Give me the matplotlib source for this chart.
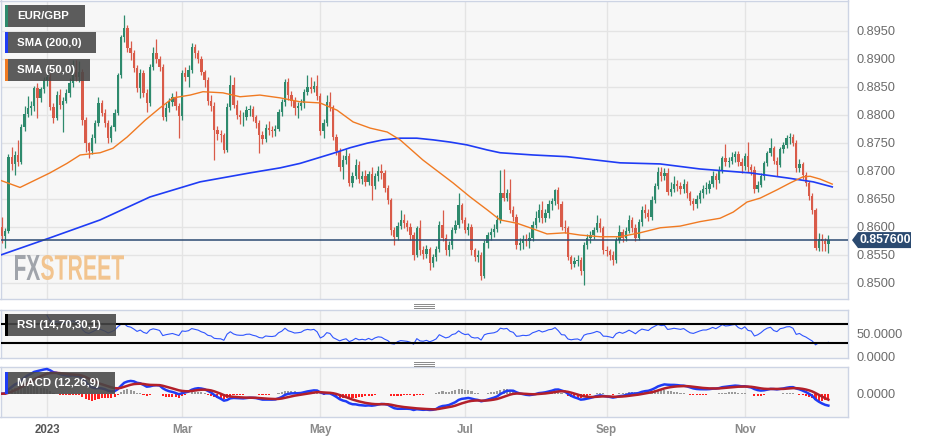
import numpy as np
import pandas as pd
import matplotlib
matplotlib.use('Agg')
import matplotlib.pyplot as plt
from matplotlib.patches import Rectangle, Polygon, PathPatch
from matplotlib.lines import Line2D
from matplotlib.textpath import TextPath
from matplotlib.font_manager import FontProperties
from matplotlib.transforms import Affine2D, IdentityTransform

plt.rcParams['font.family'] = ['Liberation Sans', 'DejaVu Sans']

# daily EUR/GBP candles (open = previous close)
first_day = '2022-12-13'
first_open = 0.8599
close = [
    0.8583, 0.8592, 0.8725, 0.8712, 0.8728, 0.8716, 0.8778, 0.8802, 0.8812, 0.8815,
    0.8847, 0.8830, 0.8845, 0.8862, 0.8868, 0.8814, 0.8794, 0.8835, 0.8818, 0.8825,
    0.8839, 0.8857, 0.8880, 0.8868, 0.8876, 0.8790, 0.8749, 0.8735, 0.8758, 0.8785,
    0.8820, 0.8803, 0.8785, 0.8758, 0.8778, 0.8803, 0.8870, 0.8938, 0.8955, 0.8919,
    0.8910, 0.8883, 0.8848, 0.8874, 0.8838, 0.8820, 0.8886, 0.8910, 0.8900, 0.8886,
    0.8796, 0.8812, 0.8822, 0.8832, 0.8815, 0.8797, 0.8874, 0.8868, 0.8880, 0.8921,
    0.8910, 0.8900, 0.8877, 0.8862, 0.8825, 0.8815, 0.8773, 0.8766, 0.8764, 0.8737,
    0.8814, 0.8853, 0.8818, 0.8800, 0.8795, 0.8795, 0.8808, 0.8810, 0.8795, 0.8785,
    0.8763, 0.8757, 0.8777, 0.8772, 0.8770, 0.8775, 0.8805, 0.8822, 0.8859, 0.8835,
    0.8825, 0.8812, 0.8815, 0.8820, 0.8841, 0.8850, 0.8846, 0.8852, 0.8833, 0.8770,
    0.8785, 0.8823, 0.8814, 0.8761, 0.8735, 0.8707, 0.8719, 0.8727, 0.8678, 0.8690,
    0.8710, 0.8685, 0.8690, 0.8680, 0.8694, 0.8672, 0.8690, 0.8700, 0.8695, 0.8669,
    0.8648, 0.8594, 0.8582, 0.8602, 0.8612, 0.8606, 0.8600, 0.8585, 0.8549, 0.8597,
    0.8558, 0.8552, 0.8560, 0.8535, 0.8545, 0.8560, 0.8603, 0.8580, 0.8558, 0.8567,
    0.8594, 0.8603, 0.8639, 0.8612, 0.8594, 0.8600, 0.8558, 0.8546, 0.8549, 0.8512,
    0.8570, 0.8585, 0.8590, 0.8596, 0.8612, 0.8660, 0.8652, 0.8660, 0.8630, 0.8618,
    0.8567, 0.8570, 0.8578, 0.8574, 0.8580, 0.8603, 0.8615, 0.8630, 0.8615, 0.8625,
    0.8640, 0.8645, 0.8665, 0.8640, 0.8600, 0.8597, 0.8545, 0.8533, 0.8538, 0.8540,
    0.8520, 0.8567, 0.8580, 0.8585, 0.8594, 0.8607, 0.8597, 0.8558, 0.8557, 0.8550,
    0.8540, 0.8576, 0.8590, 0.8580, 0.8593, 0.8612, 0.8598, 0.8580, 0.8608, 0.8630,
    0.8624, 0.8618, 0.8648, 0.8672, 0.8698, 0.8690, 0.8695, 0.8662, 0.8668, 0.8676,
    0.8672, 0.8668, 0.8676, 0.8660, 0.8645, 0.8640, 0.8650, 0.8660, 0.8668, 0.8668,
    0.8677, 0.8690, 0.8683, 0.8700, 0.8722, 0.8715, 0.8718, 0.8725, 0.8730, 0.8715,
    0.8708, 0.8726, 0.8706, 0.8702, 0.8667, 0.8675, 0.8690, 0.8713, 0.8731, 0.8740,
    0.8718, 0.8710, 0.8738, 0.8745, 0.8758, 0.8760, 0.8750, 0.8704, 0.8712, 0.8692,
    0.8678, 0.8655, 0.8630, 0.8562, 0.8578, 0.8574, 0.8569, 0.8576,
]
high = [
    0.8617, 0.8598, 0.8730, 0.8742, 0.8735, 0.8755, 0.8783, 0.8815, 0.8833, 0.8824,
    0.8852, 0.8856, 0.8850, 0.8868, 0.8877, 0.8874, 0.8820, 0.8842, 0.8845, 0.8832,
    0.8846, 0.8866, 0.8897, 0.8898, 0.8896, 0.8882, 0.8796, 0.8752, 0.8765, 0.8790,
    0.8832, 0.8826, 0.8810, 0.8790, 0.8782, 0.8810, 0.8874, 0.8942, 0.8978, 0.8960,
    0.8932, 0.8915, 0.8888, 0.8882, 0.8880, 0.8845, 0.8890, 0.8920, 0.8936, 0.8905,
    0.8890, 0.8820, 0.8830, 0.8838, 0.8842, 0.8820, 0.8880, 0.8885, 0.8888, 0.8928,
    0.8926, 0.8915, 0.8905, 0.8880, 0.8868, 0.8835, 0.8822, 0.8780, 0.8772, 0.8768,
    0.8820, 0.8870, 0.8867, 0.8826, 0.8808, 0.8804, 0.8815, 0.8818, 0.8816, 0.8800,
    0.8790, 0.8770, 0.8784, 0.8788, 0.8780, 0.8782, 0.8810, 0.8828, 0.8864, 0.8866,
    0.8842, 0.8832, 0.8822, 0.8828, 0.8846, 0.8871, 0.8868, 0.8860, 0.8870, 0.8838,
    0.8792, 0.8835, 0.8840, 0.8818, 0.8766, 0.8740, 0.8728, 0.8738, 0.8732, 0.8698,
    0.8720, 0.8718, 0.8700, 0.8702, 0.8700, 0.8706, 0.8696, 0.8708, 0.8712, 0.8702,
    0.8674, 0.8652, 0.8600, 0.8608, 0.8630, 0.8622, 0.8612, 0.8606, 0.8590, 0.8602,
    0.8612, 0.8566, 0.8568, 0.8564, 0.8552, 0.8566, 0.8610, 0.8630, 0.8586, 0.8574,
    0.8600, 0.8612, 0.8660, 0.8643, 0.8618, 0.8606, 0.8604, 0.8562, 0.8558, 0.8555,
    0.8576, 0.8590, 0.8598, 0.8604, 0.8620, 0.8701, 0.8703, 0.8668, 0.8685, 0.8636,
    0.8622, 0.8580, 0.8585, 0.8586, 0.8590, 0.8610, 0.8628, 0.8640, 0.8646, 0.8632,
    0.8648, 0.8652, 0.8668, 0.8670, 0.8646, 0.8612, 0.8602, 0.8550, 0.8545, 0.8550,
    0.8546, 0.8572, 0.8586, 0.8592, 0.8600, 0.8620, 0.8615, 0.8602, 0.8566, 0.8560,
    0.8556, 0.8582, 0.8603, 0.8596, 0.8600, 0.8620, 0.8618, 0.8604, 0.8614, 0.8636,
    0.8640, 0.8632, 0.8654, 0.8678, 0.8706, 0.8706, 0.8704, 0.8704, 0.8680, 0.8690,
    0.8684, 0.8680, 0.8686, 0.8682, 0.8664, 0.8652, 0.8656, 0.8666, 0.8675, 0.8680,
    0.8684, 0.8700, 0.8696, 0.8708, 0.8727, 0.8747, 0.8724, 0.8734, 0.8736, 0.8736,
    0.8722, 0.8732, 0.8752, 0.8712, 0.8708, 0.8682, 0.8696, 0.8718, 0.8736, 0.8758,
    0.8744, 0.8724, 0.8742, 0.8752, 0.8764, 0.8767, 0.8766, 0.8754, 0.8720, 0.8716,
    0.8698, 0.8682, 0.8660, 0.8634, 0.8588, 0.8586, 0.8580, 0.8585,
]
low = [
    0.8570, 0.8561, 0.8588, 0.8702, 0.8692, 0.8708, 0.8712, 0.8770, 0.8795, 0.8800,
    0.8806, 0.8794, 0.8822, 0.8838, 0.8852, 0.8808, 0.8785, 0.8790, 0.8810, 0.8769,
    0.8820, 0.8832, 0.8850, 0.8860, 0.8858, 0.8782, 0.8733, 0.8722, 0.8730, 0.8750,
    0.8780, 0.8797, 0.8778, 0.8750, 0.8752, 0.8770, 0.8800, 0.8865, 0.8930, 0.8912,
    0.8898, 0.8876, 0.8840, 0.8830, 0.8832, 0.8805, 0.8815, 0.8880, 0.8892, 0.8878,
    0.8790, 0.8788, 0.8805, 0.8815, 0.8808, 0.8758, 0.8790, 0.8860, 0.8850, 0.8875,
    0.8902, 0.8893, 0.8870, 0.8850, 0.8818, 0.8806, 0.8719, 0.8755, 0.8752, 0.8731,
    0.8733, 0.8808, 0.8812, 0.8792, 0.8784, 0.8780, 0.8790, 0.8798, 0.8788, 0.8776,
    0.8731, 0.8748, 0.8752, 0.8764, 0.8760, 0.8762, 0.8770, 0.8798, 0.8815, 0.8826,
    0.8815, 0.8800, 0.8794, 0.8808, 0.8812, 0.8836, 0.8838, 0.8840, 0.8826, 0.8764,
    0.8758, 0.8780, 0.8806, 0.8755, 0.8728, 0.8700, 0.8686, 0.8712, 0.8672, 0.8670,
    0.8685, 0.8678, 0.8676, 0.8672, 0.8674, 0.8647, 0.8668, 0.8682, 0.8686, 0.8662,
    0.8640, 0.8585, 0.8568, 0.8576, 0.8596, 0.8598, 0.8592, 0.8576, 0.8540, 0.8545,
    0.8550, 0.8542, 0.8544, 0.8522, 0.8528, 0.8538, 0.8555, 0.8574, 0.8550, 0.8548,
    0.8560, 0.8588, 0.8598, 0.8606, 0.8588, 0.8585, 0.8550, 0.8538, 0.8536, 0.8504,
    0.8508, 0.8562, 0.8576, 0.8582, 0.8590, 0.8606, 0.8645, 0.8645, 0.8624, 0.8610,
    0.8560, 0.8558, 0.8560, 0.8566, 0.8562, 0.8575, 0.8598, 0.8608, 0.8606, 0.8608,
    0.8615, 0.8630, 0.8638, 0.8632, 0.8594, 0.8588, 0.8540, 0.8524, 0.8528, 0.8530,
    0.8514, 0.8495, 0.8560, 0.8570, 0.8578, 0.8590, 0.8590, 0.8552, 0.8548, 0.8540,
    0.8531, 0.8535, 0.8570, 0.8572, 0.8575, 0.8588, 0.8590, 0.8575, 0.8576, 0.8602,
    0.8616, 0.8610, 0.8612, 0.8642, 0.8668, 0.8682, 0.8684, 0.8656, 0.8655, 0.8662,
    0.8664, 0.8658, 0.8660, 0.8652, 0.8638, 0.8630, 0.8634, 0.8642, 0.8652, 0.8658,
    0.8660, 0.8670, 0.8668, 0.8678, 0.8695, 0.8708, 0.8706, 0.8712, 0.8716, 0.8708,
    0.8696, 0.8702, 0.8698, 0.8692, 0.8660, 0.8662, 0.8670, 0.8684, 0.8708, 0.8726,
    0.8712, 0.8690, 0.8706, 0.8732, 0.8740, 0.8748, 0.8744, 0.8698, 0.8698, 0.8686,
    0.8672, 0.8648, 0.8622, 0.8558, 0.8557, 0.8556, 0.8556, 0.8553,
]

# moving averages as drawn (candle index -> value)
sma200_at = [-0.6, 14.9, 30.5, 46.0, 61.6, 77.1, 86.5, 92.7, 103.0, 108.3, 113.5, 118.5, 123.8, 129.0,
             134.1, 139.4, 144.6, 150.9, 154.9, 165.2, 175.7, 192.2, 204.7, 217.1, 232.7, 244.2, 252.3, 258.2]
sma200 = [0.8549, 0.8580, 0.8612, 0.8653, 0.8680, 0.8696, 0.8705, 0.8713, 0.8731, 0.8741, 0.8749, 0.8755, 0.8758, 0.8758,
          0.8755, 0.8751, 0.8746, 0.8737, 0.8732, 0.8728, 0.8725, 0.8714, 0.8712, 0.8703, 0.8696, 0.8687, 0.8680, 0.8671]
sma50_at = [-0.6, 5.6, 14.9, 20.2, 24.3, 30.5, 34.5, 38.9, 44.5, 49.1, 53.2, 58.5, 62.5, 68.7,
            74.0, 80.2, 86.5, 92.7, 98.9, 104.2, 109.2, 114.5, 119.8, 123.8, 130.9, 140.3, 145.6,
            150.9, 154.9, 160.2, 164.2, 169.5, 175.1, 179.8, 186.0, 192.2, 198.4, 204.7, 210.9,
            217.1, 223.3, 227.4, 231.7, 235.8, 241.1, 245.1, 249.1, 251.3, 254.4, 258.2]
sma50 = [0.8683, 0.8670, 0.8696, 0.8713, 0.8728, 0.8732, 0.8740, 0.8760, 0.8790, 0.8812, 0.8830, 0.8835, 0.8841, 0.8839,
         0.8832, 0.8835, 0.8830, 0.8823, 0.8821, 0.8808, 0.8787, 0.8776, 0.8769, 0.8755, 0.8719, 0.8678, 0.8653,
         0.8630, 0.8612, 0.8606, 0.8598, 0.8587, 0.8589, 0.8585, 0.8582, 0.8582, 0.8589, 0.8598, 0.8601,
         0.8609, 0.8615, 0.8626, 0.8644, 0.8651, 0.8666, 0.8678, 0.8689, 0.8690, 0.8685, 0.8676]

month_names = {1: '2023', 3: 'Mar', 5: 'May', 7: 'Jul', 9: 'Sep', 11: 'Nov'}
price_ticks = [0.8500, 0.8550, 0.8600, 0.8650, 0.8700, 0.8750, 0.8800, 0.8850, 0.8900, 0.8950]

W, H = 925, 442
UP, DOWN = '#2e8a6d', '#d95b49'
BG, EDGE, GRID = '#f7f7f7', '#cdd4e4', '#e4e4e4'
BLUE, ORANGE = '#1f3cf5', '#f07a22'


def place(top, bottom):
    # axes rectangle from pixel rows of the 925x442 canvas
    return [0.5 / W, 1 - bottom / H, 847.5 / W, (bottom - top) / H]


n = len(close)
x = np.arange(n)
dates = pd.bdate_range(first_day, periods=n)
c = pd.Series(close)
o = c.shift(1).fillna(first_open)
cols = np.where(c >= o, UP, DOWN)

# RSI 14 (Wilder)
d = c.diff().to_numpy()
gain = np.clip(d, 0, None)
loss = np.clip(-d, 0, None)
ag = np.full(n, np.nan)
al = np.full(n, np.nan)
ag[14] = gain[1:15].mean()
al[14] = loss[1:15].mean()
for i in range(15, n):
    ag[i] = (ag[i - 1] * 13 + gain[i]) / 14
    al[i] = (al[i - 1] * 13 + loss[i]) / 14
rsi = 100 - 100 / (1 + ag / al)

# MACD 12,26,9
macd = c.ewm(span=12, adjust=False).mean() - c.ewm(span=26, adjust=False).mean()
signal = macd.ewm(span=9, adjust=False).mean()
hist = macd - signal

month_pos = [int(np.argmax((dates.year == 2023) & (dates.month == m))) for m in month_names]

fig = plt.figure(figsize=(W / 100, H / 100), dpi=100)
fig.patch.set_facecolor('white')
ax = fig.add_axes(place(0.5, 299))
ax_rsi = fig.add_axes(place(309.5, 358), sharex=ax)
ax_macd = fig.add_axes(place(366.5, 417), sharex=ax)

for a in (ax, ax_rsi, ax_macd):
    a.set_facecolor(BG)
    for s in a.spines.values():
        s.set_color(EDGE)
        s.set_linewidth(1)
    a.yaxis.tick_right()
    a.tick_params(length=0, labelsize=9.2, labelcolor='#6b6b6b', pad=6)
    a.grid(axis='x', color=GRID, lw=1)
ax.set_xticks(month_pos)
ax.grid(axis='y', color=GRID, lw=1)

# candles
ax.vlines(x, low, high, colors=cols, lw=0.9, zorder=3)
body_lo = np.minimum(o, c)
body_h = np.maximum(np.abs(c - o), 0.00006)
ax.bar(x, body_h, bottom=body_lo, width=0.72, color=cols, lw=0, zorder=4)
ax.plot(sma200_at, sma200, color=BLUE, lw=1.2, zorder=5)
ax.plot(sma50_at, sma50, color=ORANGE, lw=1.0, zorder=5)
ax.axhline(close[-1], color='#2c4a72', lw=1.1, zorder=5)

# FXSTREET watermark
wm_font = FontProperties(family=['Liberation Sans Narrow', 'Liberation Sans'], weight='bold')
for txt, left, width, colr in [('FX', 15, 25, '#a0a4ab'), ('STREET', 41, 83, '#f2c48f')]:
    tp = TextPath((0, 0), txt, size=40, prop=wm_font)
    ext = tp.get_extents()
    tr = Affine2D().translate(-ext.x0, -ext.y0).scale(width / ext.width, 25 / ext.height).translate(left, H - 280)
    ax.add_artist(PathPatch(tr.transform_path(tp), transform=IdentityTransform(),
                            fc=colr, ec='none', zorder=1.6))

ax.set_xlim(-0.47, 263.1)
ax.set_ylim(0.84708, 0.90039)
ax.set_yticks(price_ticks)
ax.set_yticklabels([f'{p:.4f}' for p in price_ticks])
ax.tick_params(labelbottom=False)

# RSI panel
ax_rsi.plot(x, rsi, color='#2f55ff', lw=0.8, zorder=3)
ax_rsi.axhline(70, color='black', lw=1.5, zorder=4)
ax_rsi.axhline(30, color='black', lw=1.5, zorder=4)
ax_rsi.set_ylim(-2.7, 101)
ax_rsi.set_yticks([0, 50])
ax_rsi.set_yticklabels(['0.0000', '50.0000'])
ax_rsi.tick_params(labelbottom=False)

# MACD panel
hcols = np.where(hist >= 0, '#9a9a9a', '#ff1f1f')
ax_macd.bar(x, hist, width=0.65, color=hcols, lw=0, zorder=2)
ax_macd.plot(x, macd, color=BLUE, lw=1.8, zorder=3)
ax_macd.plot(x, signal, color='#b3202a', lw=1.8, zorder=4)
k = max(macd.max() / 24.7, -macd.min() / 20.3)
ax_macd.set_ylim(-23.3 * k, 27.2 * k)
ax_macd.set_yticks([0])
ax_macd.set_yticklabels(['0.0000'])
ax_macd.set_xticklabels(list(month_names.values()))
ax_macd.tick_params(axis='x', pad=5, labelsize=8.3)
for lab in ax_macd.get_xticklabels():
    lab.set_fontweight('bold')
    lab.set_color('#555555' if lab.get_text() == '2023' else '#8a8a8a')


def label_box(x0, y0, x1, y1, strip, text):
    fig.add_artist(Rectangle((x0, H - y1), x1 - x0, y1 - y0, transform=IdentityTransform(),
                             fc='#474747', alpha=0.88, ec='none', zorder=10))
    fig.add_artist(Rectangle((x0, H - y1), 2.5, y1 - y0, transform=IdentityTransform(),
                             fc=strip, ec='none', zorder=11))
    fig.text(x0 + 12, H - (y0 + y1) / 2, text, transform=IdentityTransform(), color='white',
             fontsize=8.2, fontweight='bold', va='center', ha='left', zorder=12)


label_box(5, 5, 85, 27, UP, 'EUR/GBP')
label_box(5, 32, 96, 53, BLUE, 'SMA (200,0)')
label_box(5, 59, 90, 81, ORANGE, 'SMA (50,0)')
label_box(5, 314, 116, 336, 'black', 'RSI (14,70,30,1)')
label_box(5, 372, 115, 394, BLUE, 'MACD (12,26,9)')

# panel resize handles
for yy in (303.5, 361.5):
    for dy in (0, 2, 4):
        fig.add_artist(Line2D([414, 434], [H - yy - dy] * 2, transform=IdentityTransform(),
                              color='#8a8a8a', lw=0.7))

# last price tag
xr, yd = ax.transData.transform((ax.get_xlim()[1], close[-1]))
tag = Polygon([(xr + 4, yd), (xr + 10, yd + 8), (xr + 63, yd + 8), (xr + 63, yd - 8), (xr + 10, yd - 8)],
              closed=True, transform=IdentityTransform(), fc='#2b4a70', ec='none', zorder=10)
fig.add_artist(tag)
fig.text(xr + 11, yd, f'{close[-1]:.6f}', transform=IdentityTransform(), color='white',
         fontsize=8.8, fontweight='bold', va='center', ha='left', zorder=11)

fig.savefig('out.png', dpi=100, facecolor='white')
